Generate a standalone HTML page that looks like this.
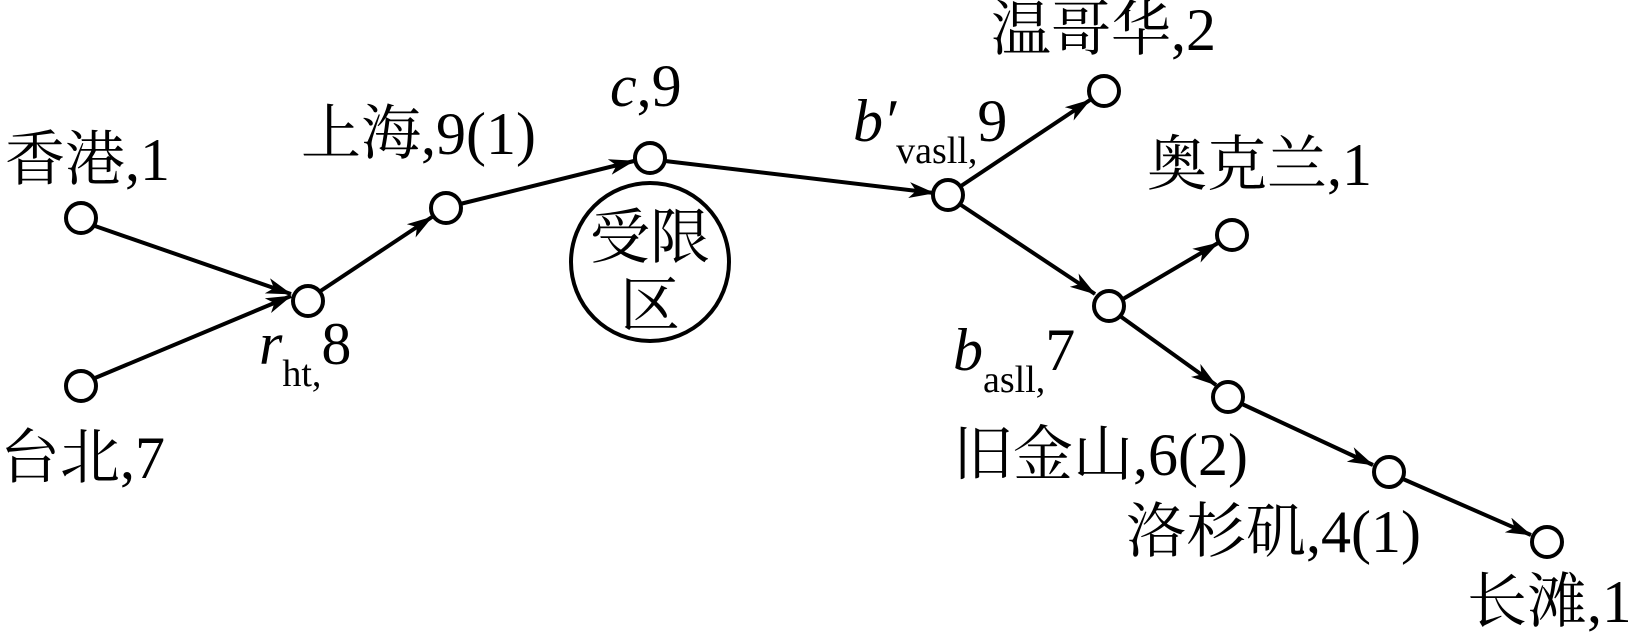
<!DOCTYPE html>
<html><head><meta charset="utf-8"><style>
html,body{margin:0;padding:0;background:#fff;}
svg{display:block;}
text{font-family:"Liberation Serif","Noto Serif CJK SC",serif;font-size:60px;fill:#000;}
</style></head><body>
<svg width="1628" height="640" viewBox="0 0 1628 640" xmlns="http://www.w3.org/2000/svg">
<defs>
<marker id="a" markerWidth="26" markerHeight="16" refX="25" refY="8" orient="auto" markerUnits="userSpaceOnUse" viewBox="0 0 26 16">
<path d="M0,0 L26,8 L0,16 L7,8 Z" fill="#000"/>
</marker>
</defs>
<g stroke="#000" stroke-width="4" fill="none">
<line x1="95" y1="226" x2="291" y2="294" marker-end="url(#a)"/>
<line x1="95" y1="378" x2="291" y2="296" marker-end="url(#a)"/>
<line x1="319" y1="292" x2="432" y2="217" marker-end="url(#a)"/>
<line x1="460" y1="204" x2="634" y2="161" marker-end="url(#a)"/>
<line x1="665" y1="161" x2="934" y2="193" marker-end="url(#a)"/>
<line x1="961" y1="186" x2="1090" y2="100" marker-end="url(#a)"/>
<line x1="961" y1="205" x2="1095" y2="294" marker-end="url(#a)"/>
<line x1="1123" y1="299" x2="1218" y2="243" marker-end="url(#a)"/>
<line x1="1120" y1="316" x2="1216" y2="385" marker-end="url(#a)"/>
<line x1="1242" y1="404" x2="1373" y2="465" marker-end="url(#a)"/>
<line x1="1403" y1="479" x2="1531" y2="535" marker-end="url(#a)"/>
</g>
<g stroke="#000" stroke-width="4" fill="#fff">
<circle cx="650" cy="262" r="79"/>
<circle cx="81" cy="218" r="15"/>
<circle cx="81" cy="386" r="15"/>
<circle cx="308" cy="301" r="15"/>
<circle cx="446" cy="208" r="15"/>
<circle cx="650" cy="158" r="15"/>
<circle cx="948" cy="195" r="15"/>
<circle cx="1104" cy="91" r="15"/>
<circle cx="1232" cy="235" r="15"/>
<circle cx="1109" cy="306" r="15"/>
<circle cx="1228" cy="397" r="15"/>
<circle cx="1389" cy="472" r="15"/>
<circle cx="1547" cy="542" r="15"/>
</g>
<text x="5" y="180">香港,1</text>
<text x="0" y="478">台北,7</text>
<text x="301" y="154">上海,9(1)</text>
<text x="610" y="106"><tspan font-style="italic">c</tspan>,9</text>
<text x="650" y="258" text-anchor="middle">受限</text>
<text x="650" y="326" text-anchor="middle">区</text>
<text x="259" y="364"><tspan font-style="italic">r</tspan><tspan font-size="38" dy="22">ht</tspan><tspan font-size="38">,</tspan><tspan dy="-22">8</tspan></text>
<text x="853" y="141"><tspan font-style="italic">b′</tspan><tspan font-size="38" dy="22">vasll</tspan><tspan font-size="38">,</tspan><tspan dy="-22">9</tspan></text>
<text x="991" y="50">温哥华,2</text>
<text x="1147" y="185">奥克兰,1</text>
<text x="953" y="370"><tspan font-style="italic">b</tspan><tspan font-size="38" dy="22">asll</tspan><tspan font-size="38">,</tspan><tspan dy="-22">7</tspan></text>
<text x="953" y="475">旧金山,6(2)</text>
<text x="1126" y="552">洛杉矶,4(1)</text>
<text x="1467" y="622">长滩,1</text>
</svg>
</body></html>
